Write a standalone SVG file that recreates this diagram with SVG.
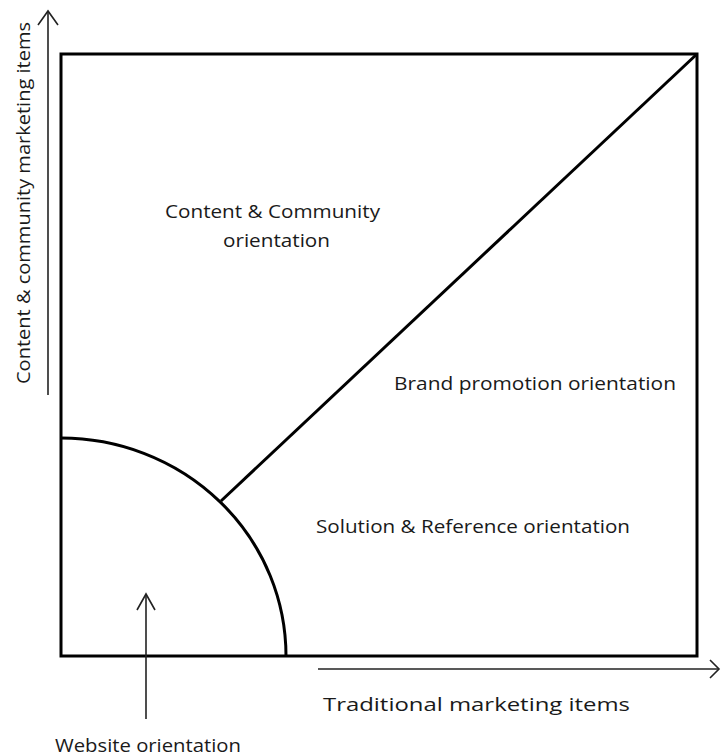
<svg xmlns="http://www.w3.org/2000/svg" width="721" height="756" viewBox="0 0 721 756">
  <style>
    .frame { fill: none; stroke: #000; stroke-width: 3; }
    .axis { fill: none; stroke: #222; stroke-width: 1.6; }
    .lbl { font-family: "Open Sans", "Liberation Sans", sans-serif; font-size: 18px; fill: #1a1a1a; }
  </style>
  <rect width="721" height="756" fill="#fff"/>

  <!-- quadrant frame with split lines -->
  <g id="chart">
    <rect class="frame" x="61" y="54" width="636" height="602"/>
    <path class="frame" d="M61,438 A225,218 0 0 1 286,656"/>
    <line class="frame" x1="697" y1="54" x2="221" y2="501"/>
  </g>

  <!-- axes and pointer -->
  <g id="connectors">
    <line class="axis" x1="48" y1="395" x2="48" y2="11"/>
    <polyline class="axis" points="38,25 48,11 58,25"/>
    <line class="axis" x1="318" y1="669" x2="719" y2="669"/>
    <polyline class="axis" points="710,660 719,669 710,678"/>
    <line class="axis" x1="146" y1="719" x2="146" y2="594"/>
    <polyline class="axis" points="137,610 146,594 155,610"/>
  </g>

  <g id="y-axis-label">
    <text class="lbl" transform="translate(30,203) rotate(-90)" text-anchor="middle" textLength="362" lengthAdjust="spacingAndGlyphs">Content &amp; community marketing items</text>
  </g>
  <g id="x-axis-label">
    <text class="lbl" x="323" y="711" textLength="307" lengthAdjust="spacingAndGlyphs">Traditional marketing items</text>
  </g>
  <g id="content-community">
    <text class="lbl" x="165" y="218" textLength="215" lengthAdjust="spacingAndGlyphs">Content &amp; Community</text>
    <text class="lbl" x="223" y="247" textLength="107" lengthAdjust="spacingAndGlyphs">orientation</text>
  </g>
  <g id="brand-promotion">
    <text class="lbl" x="394" y="390" textLength="282" lengthAdjust="spacingAndGlyphs">Brand promotion orientation</text>
  </g>
  <g id="solution-reference">
    <text class="lbl" x="316" y="533" textLength="314" lengthAdjust="spacingAndGlyphs">Solution &amp; Reference orientation</text>
  </g>
  <g id="website">
    <text class="lbl" x="55" y="752" textLength="186" lengthAdjust="spacingAndGlyphs">Website orientation</text>
  </g>
</svg>
